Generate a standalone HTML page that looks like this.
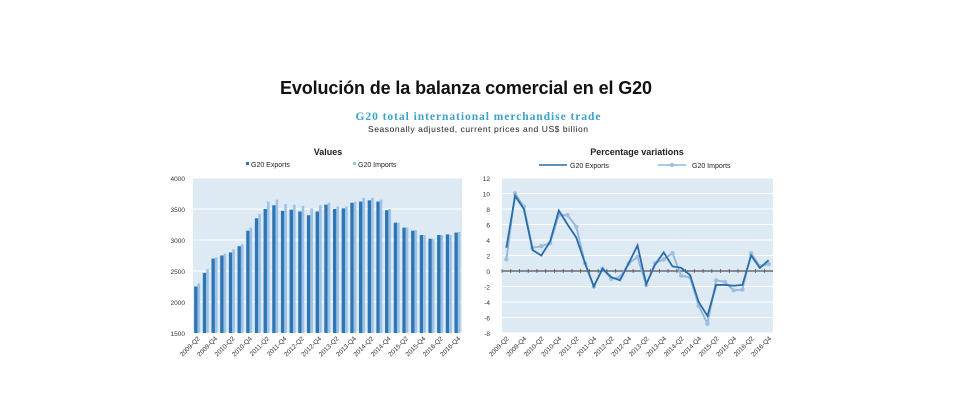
<!DOCTYPE html>
<html><head><meta charset="utf-8"><style>
body{margin:0;background:#fff;}
svg{display:block;font-family:"Liberation Sans",sans-serif;}
</style></head><body>
<svg id="c" width="960" height="400" viewBox="0 0 960 400">
<text x="466" y="94" text-anchor="middle" font-size="18" font-weight="bold" fill="#111" textLength="372">Evolución de la balanza comercial en el G20</text>
<text x="478" y="120" text-anchor="middle" font-family="Liberation Serif" font-size="11.5" font-weight="bold" fill="#3aa3cc" textLength="245">G20 total international merchandise trade</text>
<text x="478" y="132" text-anchor="middle" font-size="8.5" fill="#222" textLength="220">Seasonally adjusted, current prices and US$ billion</text>
<text x="328" y="155" text-anchor="middle" font-size="9" font-weight="bold" fill="#222">Values</text>
<text x="637" y="155" text-anchor="middle" font-size="9" font-weight="bold" fill="#222">Percentage variations</text>
<g id="left"></g><g id="right"></g>
</svg>
<script>
const quarters=["2009-Q2","2009-Q3","2009-Q4","2010-Q1","2010-Q2","2010-Q3","2010-Q4","2011-Q1","2011-Q2","2011-Q3","2011-Q4","2012-Q1","2012-Q2","2012-Q3","2012-Q4","2013-Q1","2013-Q2","2013-Q3","2013-Q4","2014-Q1","2014-Q2","2014-Q3","2014-Q4","2015-Q1","2015-Q2","2015-Q3","2015-Q4","2016-Q1","2016-Q2","2016-Q3","2016-Q4"];
const exportsVal=[2250,2470,2700,2750,2800,2900,3150,3350,3500,3560,3470,3490,3460,3400,3460,3570,3500,3510,3600,3620,3640,3620,3480,3280,3200,3150,3080,3020,3080,3090,3120];
const importsVal=[2300,2530,2720,2780,2850,2930,3200,3420,3620,3650,3580,3570,3550,3510,3560,3600,3540,3540,3620,3680,3680,3650,3500,3280,3200,3160,3080,3020,3080,3080,3130];
const valueTicks=[1500,2000,2500,3000,3500,4000];
const pctQuarters=quarters;
const exportsPct=[3,9.7,8,2.7,2,3.8,7.8,6,4.3,1,-2,0.3,-0.8,-1.2,1,3.3,-1.7,0.8,2.4,0.6,0.4,-0.5,-4,-5.8,-1.8,-1.8,-1.9,-1.8,2,0.4,1.4];
const importsPct=[1.5,10,8.3,3,3.2,3.6,7.2,7.2,5.7,1,-2,0.3,-1,-0.8,1,1.8,-1.8,1,1.5,2.3,-0.6,-0.8,-4.5,-6.8,-1.2,-1.4,-2.5,-2.4,2.3,0.6,0.9];
const pctTicks=[-8,-6,-4,-2,0,2,4,6,8,10,12];
const NS="http://www.w3.org/2000/svg";
function mk(p,t,a){const e=document.createElementNS(NS,t);for(const k in a)e.setAttribute(k,a[k]);p.appendChild(e);return e;}
// LEFT
const L=document.getElementById('left');
const lx0=193,lx1=462,ly0=178,ly1=333;
const ly=v=>ly1-(v-1500)/2500*(ly1-ly0);
const lbw=(lx1-lx0)/quarters.length;
const lxc=i=>lx0+lbw*(i+0.5);
let bg=mk(L,'rect',{x:lx0,y:ly0,width:lx1-lx0,height:ly1-ly0,fill:'#dde9f3'});


valueTicks.forEach(t=>{
 let g=mk(L,'line',{x1:lx0,x2:lx1,y1:ly(t),y2:ly(t),stroke:'#fff','stroke-width':1});
 
 
 let tx=mk(L,'text',{x:lx0-8,y:ly(t)+3,'text-anchor':'end','font-size':6.5,fill:'#333'});tx.textContent=t;
 
 
});
quarters.forEach((q,i)=>{
 let b=mk(L,'rect',{x:lxc(i)-3.2,y:ly(exportsVal[i]),width:3.4,height:ly1-ly(exportsVal[i]),fill:'#2e75b6'});
 
 
 let b2=mk(L,'rect',{x:lxc(i)+0.2,y:ly(importsVal[i]),width:2.6,height:ly1-ly(importsVal[i]),fill:'#9cc2e5'});
 
 
 if(i%2===0){let t=mk(L,'text',{x:lxc(i)+3,y:ly1+6,'text-anchor':'end','font-size':6.5,fill:'#333',transform:`rotate(-45 ${lxc(i)+3} ${ly1+6})`});t.textContent=q.replace('Q1','Q2').replace('Q3','Q4');t.textContent=q;
 
 }
});
// legend left
let lg=mk(L,'g',{});


mk(lg,'rect',{x:246,y:162,width:3,height:3,fill:'#2e75b6'});
let t1=mk(lg,'text',{x:251,y:167,'font-size':7,fill:'#222'});t1.textContent='G20 Exports';
mk(lg,'rect',{x:353,y:162,width:3,height:3,fill:'#9cc2e5'});
let t2=mk(lg,'text',{x:358,y:167,'font-size':7,fill:'#222'});t2.textContent='G20 Imports';
// RIGHT
const R=document.getElementById('right');
const rx0=502,rx1=773,ry0=178,ry1=333;
const ry=v=>ry1-(v+8)/20*(ry1-ry0);
const rw=(rx1-rx0)/pctQuarters.length;
const rxc=i=>rx0+rw*(i+0.5);
let bg2=mk(R,'rect',{x:rx0,y:ry0,width:rx1-rx0,height:ry1-ry0,fill:'#dde9f3'});


pctTicks.forEach(t=>{
 let g=mk(R,'line',{x1:rx0,x2:rx1,y1:ry(t),y2:ry(t),stroke:'#fff','stroke-width':1});
 
 
 let tx=mk(R,'text',{x:rx0-12,y:ry(t)+3,'text-anchor':'end','font-size':6.5,fill:'#333'});tx.textContent=t;
 
 
});
let z=mk(R,'line',{x1:rx0,x2:rx1,y1:ry(0),y2:ry(0),stroke:'#555','stroke-width':1.2});


pctQuarters.forEach((q,i)=>{
 mk(R,'line',{x1:rx0+rw*i,x2:rx0+rw*i,y1:ry(0)-2,y2:ry(0)+2,stroke:'#555','stroke-width':0.8});
 if(i%2===0){let t=mk(R,'text',{x:rxc(i)+3,y:ry1+6,'text-anchor':'end','font-size':6.5,fill:'#333',transform:`rotate(-45 ${rxc(i)+3} ${ry1+6})`});t.textContent=q;
 
 }
});
let pi=mk(R,'polyline',{points:importsPct.map((v,i)=>rxc(i)+','+ry(v)).join(' '),fill:'none',stroke:'#8fb6dc','stroke-width':1.8});


importsPct.forEach((v,i)=>{let c=mk(R,'circle',{cx:rxc(i),cy:ry(v),r:2.2,fill:'#9dbfe0'});
 
 });
let pe=mk(R,'polyline',{points:exportsPct.map((v,i)=>rxc(i)+','+ry(v)).join(' '),fill:'none',stroke:'#2a6ca8','stroke-width':1.8});


let lg2=mk(R,'g',{});


mk(lg2,'line',{x1:539,x2:567,y1:165,y2:165,stroke:'#2a6ca8','stroke-width':1.6});
let t3=mk(lg2,'text',{x:570,y:168,'font-size':7,fill:'#222'});t3.textContent='G20 Exports';
mk(lg2,'line',{x1:658,x2:686,y1:165,y2:165,stroke:'#8fb6dc','stroke-width':1.6});
mk(lg2,'circle',{cx:672,cy:165,r:2.2,fill:'#9dbfe0'});
let t4=mk(lg2,'text',{x:692,y:168,'font-size':7,fill:'#222'});t4.textContent='G20 Imports';
</script>
</body></html>
